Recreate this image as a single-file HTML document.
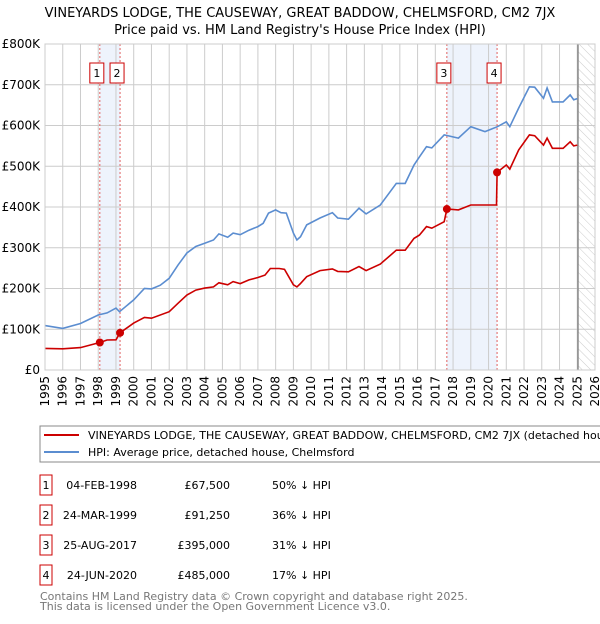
<!DOCTYPE html>
<html><head><meta charset="utf-8"><style>
body{margin:0;background:#fff;font-family:"DejaVu Sans","Liberation Sans",sans-serif;}
svg text{font-family:"DejaVu Sans","Liberation Sans",sans-serif;}
</style></head><body>
<svg id="c" width="600" height="620" xmlns="http://www.w3.org/2000/svg">
<defs><pattern id="hatch" width="6" height="6" patternUnits="userSpaceOnUse" patternTransform="rotate(-45)"><line x1="0" y1="0" x2="0" y2="6" stroke="#ccc" stroke-width="1"/></pattern></defs>
<text x="300" y="17" font-size="13" text-anchor="middle">VINEYARDS LODGE, THE CAUSEWAY, GREAT BADDOW, CHELMSFORD, CM2 7JX</text>
<text x="300" y="34" font-size="13" text-anchor="middle">Price paid vs. HM Land Registry's House Price Index (HPI)</text>
<g id="plot"></g>
<rect x="40" y="426" width="570" height="36" fill="none" stroke="#888"/>
<line x1="44" y1="435" x2="79" y2="435" stroke="#cc0000" stroke-width="2"/>
<text x="88" y="439" font-size="11">VINEYARDS LODGE, THE CAUSEWAY, GREAT BADDOW, CHELMSFORD, CM2 7JX (detached house)</text>
<line x1="44" y1="452" x2="79" y2="452" stroke="#5b8dd0" stroke-width="2"/>
<text x="88" y="456" font-size="11">HPI: Average price, detached house, Chelmsford</text>
<g id="table" font-size="11"></g>
<text x="40" y="600" font-size="11" fill="#777">Contains HM Land Registry data © Crown copyright and database right 2025.</text>
<text x="40" y="610" font-size="11" fill="#777">This data is licensed under the Open Government Licence v3.0.</text>
</svg>
<script>
const hpiYears=[1995,1996,1997,1998,1998.5,1999,1999.2,2000,2000.6,2001,2001.5,2002,2002.5,2003,2003.5,2004,2004.5,2004.8,2005.3,2005.6,2006,2006.5,2007,2007.3,2007.6,2008,2008.3,2008.6,2009,2009.2,2009.4,2009.75,2010.5,2011.2,2011.5,2012.1,2012.7,2013.1,2013.9,2014.8,2015.3,2015.8,2016.1,2016.5,2016.8,2017.5,2018.3,2019,2019.8,2020.5,2021,2021.2,2021.7,2022.3,2022.6,2023.1,2023.3,2023.6,2024.2,2024.6,2024.8,2025];
const hpiValues=[109,102,114,135,140,152,143,172,200,199,208,225,258,287,303,311,319,334,326,336,332,343,352,360,385,393,386,385,336,319,327,356,373,386,373,370,397,383,405,458,458,503,523,548,545,577,569,597,585,597,609,597,643,695,694,667,692,658,658,675,663,666];
const propYears=[1995,1996,1997,1998.09,1998.5,1999,1999.23,2000,2000.6,2001,2002,2002.5,2003,2003.5,2004,2004.5,2004.8,2005.3,2005.6,2006,2006.5,2007,2007.4,2007.7,2008.2,2008.5,2009,2009.2,2009.37,2009.75,2010.5,2011.2,2011.5,2012.1,2012.7,2013.1,2013.9,2014.8,2015.3,2015.8,2016.1,2016.5,2016.8,2017.5,2017.65,2018.3,2019,2019.8,2020.45,2020.48,2021,2021.2,2021.7,2022.3,2022.6,2023.1,2023.3,2023.6,2024.2,2024.6,2024.8,2025];
const propValues=[53,52,55,67.5,73.6,74,91.25,115,129,127,143,164,184,196,201,204,214,209,217,212,221,227,233,249,249,247,209,204,211,229,244,248,242,241,254,244,260,294,294,323,331,352,348,364,395,393,405,405,405,485,503,493,540,577,575,552,569,544,544,560,550,552];
const saleLabels=["1","2","3","4"];
const saleYears=[1998.09,1999.23,2017.65,2020.48];
const salePrices=[67.5,91.25,395,485];
const saleDates=["04-FEB-1998","24-MAR-1999","25-AUG-2017","24-JUN-2020"];
const salePriceText=["£67,500","£91,250","£395,000","£485,000"];
const saleHpiText=["50% ↓ HPI","36% ↓ HPI","31% ↓ HPI","17% ↓ HPI"];
const yTicks=[0,100,200,300,400,500,600,700,800];
const yTickLabels=["£0","£100K","£200K","£300K","£400K","£500K","£600K","£700K","£800K"];
const xTicks=[1995,1996,1997,1998,1999,2000,2001,2002,2003,2004,2005,2006,2007,2008,2009,2010,2011,2012,2013,2014,2015,2016,2017,2018,2019,2020,2021,2022,2023,2024,2025,2026];

const X0=45,X1=595,Y0=370,Y1=44;
const x=v=>X0+(v-1995)/(2026-1995)*(X1-X0);
const y=v=>Y0-v/800*(Y0-Y1);
const NS="http://www.w3.org/2000/svg";
const g=document.getElementById('plot');
function mk(tag,attrs,parent){const e=document.createElementNS(NS,tag);for(const k in attrs)e.setAttribute(k,attrs[k]);(parent||g).appendChild(e);return e;}
let s=mk('rect',{x:x(saleYears[0]),y:Y1,width:x(saleYears[1])-x(saleYears[0]),height:Y0-Y1,fill:'#eef3fc'});


s=mk('rect',{x:x(saleYears[2]),y:Y1,width:x(saleYears[3])-x(saleYears[2]),height:Y0-Y1,fill:'#eef3fc'});


s=mk('rect',{x:x(2025.04),y:Y1,width:X1-x(2025.04),height:Y0-Y1,fill:'url(#hatch)'});


xTicks.forEach(t=>{const l=mk('line',{x1:x(t),x2:x(t),y1:Y1,y2:Y0,stroke:'#ccc'});


const tx=mk('text',{x:0,y:0,'font-size':12,'text-anchor':'end',transform:`translate(${x(t)+4},${Y0+6}) rotate(-90)`});tx.textContent=t;

});
yTicks.forEach((t,i)=>{const l=mk('line',{x1:X0,x2:X1,y1:y(t),y2:y(t),stroke:'#ccc'});


const tx=mk('text',{x:40,y:y(t)+4,'font-size':12,'text-anchor':'end'});tx.textContent=yTickLabels[i];

});
let vl=mk('line',{x1:x(2025.04),x2:x(2025.04),y1:Y1,y2:Y0,stroke:'#888','stroke-width':1.5});


saleYears.forEach((t,i)=>{const l=mk('line',{x1:x(t),x2:x(t),y1:Y1,y2:Y0,stroke:'#e06060','stroke-dasharray':'2,2'});


const bx=x(t)-10;
const r=mk('rect',{x:bx,y:63,width:14,height:20,fill:'#fff',stroke:'#c00'});


const tx=mk('text',{x:bx+7,y:77,'font-size':11,'text-anchor':'middle'});tx.textContent=saleLabels[i];

});
function pts(xs,vs){return xs.map((t,i)=>x(t).toFixed(1)+','+y(vs[i]).toFixed(1)).join(' ');}
let p=mk('polyline',{points:pts(hpiYears,hpiValues),fill:'none',stroke:'#5b8dd0','stroke-width':1.6});


p=mk('polyline',{points:pts(propYears,propValues),fill:'none',stroke:'#cc0000','stroke-width':1.6});


saleYears.forEach((t,i)=>{const c=mk('circle',{cx:x(t),cy:y(salePrices[i]),r:4,fill:'#cc0000'});

});
let fr=mk('rect',{x:X0,y:Y1,width:X1-X0,height:Y0-Y1,fill:'none',stroke:'#ccc'});


const tb=document.getElementById('table');
saleLabels.forEach((lab,i)=>{const yy=483+i*30;
const r=mk('rect',{x:40,y:yy-8,width:12,height:20,fill:'#fff',stroke:'#c00'},tb);


let t=mk('text',{x:46,y:yy+6,'text-anchor':'middle'},tb);t.textContent=lab;


t=mk('text',{x:137,y:yy+6,'text-anchor':'end'},tb);t.textContent=saleDates[i];


t=mk('text',{x:230,y:yy+6,'text-anchor':'end'},tb);t.textContent=salePriceText[i];


t=mk('text',{x:272,y:yy+6},tb);t.textContent=saleHpiText[i];

});
</script>
</body></html>
